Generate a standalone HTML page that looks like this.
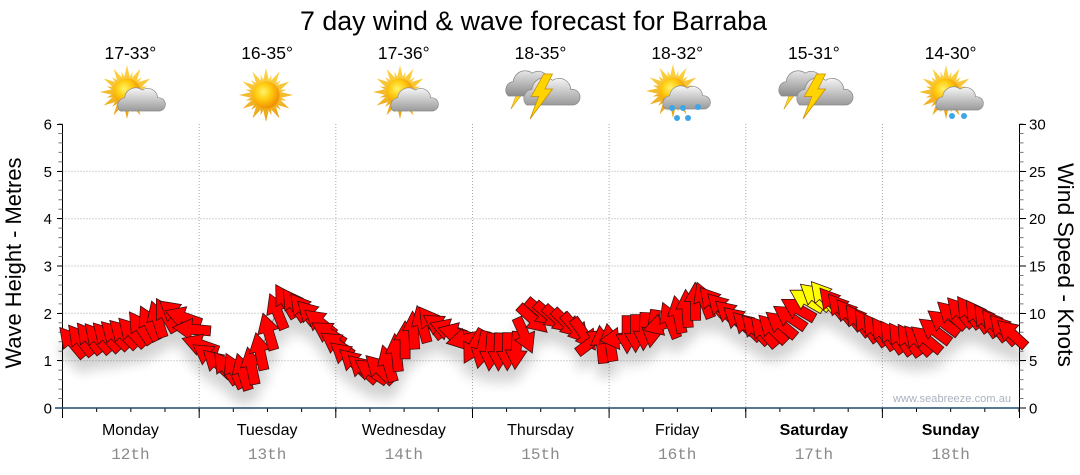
<!DOCTYPE html>
<html><head><meta charset="utf-8"><style>
html,body{margin:0;padding:0;background:#fff;}
svg{display:block;font-family:"Liberation Sans",sans-serif;}
</style></head><body>
<svg width="1080" height="475" viewBox="0 0 1080 475" xmlns="http://www.w3.org/2000/svg">
<defs>
<radialGradient id="sunG" cx="0.4" cy="0.38" r="0.65">
<stop offset="0" stop-color="#fff36a"/><stop offset="0.45" stop-color="#ffcc10"/><stop offset="1" stop-color="#f08a00"/></radialGradient>
<linearGradient id="rayG" x1="0" y1="0" x2="0" y2="1"><stop offset="0" stop-color="#ffd84a"/><stop offset="1" stop-color="#e9a010"/></linearGradient>
<linearGradient id="cloudG" x1="0" y1="0" x2="0" y2="1"><stop offset="0" stop-color="#f6f6f6"/><stop offset="1" stop-color="#9a9a9a"/></linearGradient>
<linearGradient id="cloudG2" x1="0" y1="0" x2="0" y2="1"><stop offset="0" stop-color="#e6e6e6"/><stop offset="1" stop-color="#8a8a8a"/></linearGradient>
<polygon id="star" points="27,0 12.56,3.36 23.38,13.5 9.19,9.19 13.5,23.38 3.36,12.56 0,27 -3.36,12.56 -13.5,23.38 -9.19,9.19 -23.38,13.5 -12.56,3.36 -27,0 -12.56,-3.36 -23.38,-13.5 -9.19,-9.19 -13.5,-23.38 -3.36,-12.56 0,-27 3.36,-12.56 13.5,-23.38 9.19,-9.19 23.38,-13.5 12.56,-3.36"/>
<g id="sun">
<use href="#star" fill="url(#rayG)" transform="rotate(15) scale(0.78)"/>
<use href="#star" fill="url(#rayG)"/>
<circle r="13.5" fill="url(#sunG)"/>
</g>
<path id="cloud" d="M -18 10 A 7 7 0 0 1 -14 -2 A 10 10 0 0 1 2 -9 A 9 9 0 0 1 16 -2 A 6 6 0 0 1 18 10 Z" stroke="#8a8a8a" stroke-width="0.6"/>
<polygon id="bolt" points="3,-8 -7,10 -1,10 -8,28 10,4 4,4 10,-8" fill="#ffd400" stroke="#c88a00" stroke-width="0.6"/>
<filter id="sh" x="-5%" y="-40%" width="110%" height="220%">
<feGaussianBlur in="SourceAlpha" stdDeviation="6"/>
<feOffset dy="14" result="b"/>
<feComponentTransfer><feFuncA type="linear" slope="0.18"/></feComponentTransfer>
<feMerge><feMergeNode/><feMergeNode in="SourceGraphic"/></feMerge>
</filter>
</defs>

<!-- Title -->
<text x="300" y="30" font-size="27" textLength="467" lengthAdjust="spacingAndGlyphs" fill="#000">7 day wind &amp; wave forecast for Barraba</text>

<!-- Temps -->
<g font-size="17.5" fill="#000" text-anchor="middle">
<text x="130.4" y="59">17-33°</text>
<text x="267.1" y="59">16-35°</text>
<text x="403.8" y="59">17-36°</text>
<text x="540.5" y="59">18-35°</text>
<text x="677.2" y="59">18-32°</text>
<text x="813.9" y="59">15-31°</text>
<text x="950.6" y="59">14-30°</text>
</g>

<!-- Icons -->
<use href="#sun" x="127" y="92"/>
<use href="#cloud" transform="translate(140,100) scale(1.1)" fill="url(#cloudG)"/>
<use href="#sun" x="266" y="95"/>
<use href="#sun" x="400" y="92"/>
<use href="#cloud" transform="translate(413,100) scale(1.1)" fill="url(#cloudG)"/>
<!-- Thursday storm -->
<use href="#bolt" transform="translate(518,84) scale(0.9)" opacity="0.9"/>
<use href="#cloud" transform="translate(530,84) scale(1.2)" fill="url(#cloudG2)"/>
<use href="#cloud" transform="translate(550,92) scale(1.3)" fill="url(#cloudG)"/>
<use href="#bolt" transform="translate(540,84) scale(1.25)"/>
<!-- Friday sun+rain -->
<use href="#sun" x="673" y="91"/>
<use href="#cloud" transform="translate(685,98) scale(1.1)" fill="url(#cloudG)"/>
<g fill="#3ea6e6"><circle cx="672" cy="108" r="3"/><circle cx="683" cy="108" r="3"/><circle cx="698" cy="107" r="3"/><circle cx="677" cy="118" r="3"/><circle cx="688" cy="118" r="3"/></g>
<!-- Saturday storm -->
<use href="#bolt" transform="translate(791,84) scale(0.9)" opacity="0.9"/>
<use href="#cloud" transform="translate(803,84) scale(1.2)" fill="url(#cloudG2)"/>
<use href="#cloud" transform="translate(823,92) scale(1.3)" fill="url(#cloudG)"/>
<use href="#bolt" transform="translate(813,84) scale(1.25)"/>
<!-- Sunday sun+rain -->
<use href="#sun" x="946" y="92"/>
<use href="#cloud" transform="translate(958,99) scale(1.1)" fill="url(#cloudG)"/>
<g fill="#3ea6e6"><circle cx="952" cy="116" r="3"/><circle cx="964" cy="116" r="3"/></g>

<!-- Grid -->
<g stroke="#a8a8a8" stroke-width="1" stroke-dasharray="1,2" fill="none">
<line x1="62.5" y1="171.3" x2="1019" y2="171.3"/>
<line x1="62.5" y1="218.7" x2="1019" y2="218.7"/>
<line x1="62.5" y1="266" x2="1019" y2="266"/>
<line x1="62.5" y1="313.3" x2="1019" y2="313.3"/>
<line x1="62.5" y1="360.7" x2="1019" y2="360.7"/>
<line x1="199.2" y1="124" x2="199.2" y2="408"/>
<line x1="335.8" y1="124" x2="335.8" y2="408"/>
<line x1="472.5" y1="124" x2="472.5" y2="408"/>
<line x1="609.1" y1="124" x2="609.1" y2="408"/>
<line x1="745.8" y1="124" x2="745.8" y2="408"/>
<line x1="882.4" y1="124" x2="882.4" y2="408"/>
</g>

<!-- Axes -->
<g fill="none">
<line x1="62.5" y1="124" x2="62.5" y2="418" stroke="#000" stroke-width="1"/>
<line x1="1019.5" y1="124" x2="1019.5" y2="408" stroke="#000" stroke-width="1"/>
<line x1="60.5" y1="123.5" x2="60.5" y2="408.5" stroke="#777" stroke-width="4" stroke-dasharray="1 8.467"/>
<line x1="1021.5" y1="123.5" x2="1021.5" y2="408.5" stroke="#777" stroke-width="4" stroke-dasharray="1 8.467"/>
<line x1="62" y1="410" x2="1020" y2="410" stroke="#000" stroke-width="4" stroke-dasharray="1 33.16"/>
<g stroke="#000" stroke-width="1">
<line x1="57" y1="124.5" x2="62" y2="124.5"/><line x1="57" y1="171.5" x2="62" y2="171.5"/><line x1="57" y1="218.5" x2="62" y2="218.5"/><line x1="57" y1="266" x2="62" y2="266"/><line x1="57" y1="313.5" x2="62" y2="313.5"/><line x1="57" y1="360.5" x2="62" y2="360.5"/>
<line x1="1019" y1="124.5" x2="1026" y2="124.5"/><line x1="1019" y1="171.5" x2="1026" y2="171.5"/><line x1="1019" y1="218.5" x2="1026" y2="218.5"/><line x1="1019" y1="266" x2="1026" y2="266"/><line x1="1019" y1="313.5" x2="1026" y2="313.5"/><line x1="1019" y1="360.5" x2="1026" y2="360.5"/><line x1="1019" y1="408" x2="1026" y2="408"/>
<line x1="199.2" y1="408" x2="199.2" y2="418"/><line x1="335.8" y1="408" x2="335.8" y2="418"/><line x1="472.5" y1="408" x2="472.5" y2="418"/><line x1="609.1" y1="408" x2="609.1" y2="418"/><line x1="745.8" y1="408" x2="745.8" y2="418"/><line x1="882.4" y1="408" x2="882.4" y2="418"/><line x1="1019.5" y1="408" x2="1019.5" y2="418"/>
</g>
<line x1="55" y1="408" x2="1019" y2="408" stroke="#1f4a6e" stroke-width="1.6"/>
</g>

<!-- Tick labels -->
<g font-size="15" fill="#000" text-anchor="end">
<text x="52" y="413.5">0</text><text x="52" y="366.2">1</text><text x="52" y="318.8">2</text><text x="52" y="271.5">3</text><text x="52" y="224.2">4</text><text x="52" y="176.8">5</text><text x="52" y="129.5">6</text>
</g>
<g font-size="15" fill="#000" text-anchor="start">
<text x="1029" y="413.5">0</text><text x="1029" y="366.2">5</text><text x="1029" y="318.8">10</text><text x="1029" y="271.5">15</text><text x="1029" y="224.2">20</text><text x="1029" y="176.8">25</text><text x="1029" y="129.5">30</text>
</g>

<!-- Axis titles -->
<text transform="translate(21,263) rotate(-90)" text-anchor="middle" font-size="22" textLength="211" lengthAdjust="spacingAndGlyphs" fill="#000">Wave Height - Metres</text>
<text transform="translate(1058,265) rotate(90)" text-anchor="middle" font-size="22" textLength="204" lengthAdjust="spacingAndGlyphs" fill="#000">Wind Speed - Knots</text>

<!-- Arrows -->
<polyline id="pline" fill="none" stroke="#999" stroke-width="1"/>
<g id="arrows" filter="url(#sh)" stroke="#3a1010" stroke-width="0.8" stroke-linejoin="miter"></g>

<!-- Watermark -->
<text x="893" y="402" font-size="11" fill="#aab2c0" textLength="118" lengthAdjust="spacing">www.seabreeze.com.au</text>

<!-- Bottom labels -->
<g font-size="16" fill="#000" text-anchor="middle">
<text x="130.4" y="435">Monday</text>
<text x="267.1" y="435">Tuesday</text>
<text x="403.8" y="435">Wednesday</text>
<text x="540.5" y="435">Thursday</text>
<text x="677.2" y="435">Friday</text>
<text x="813.9" y="435" font-weight="bold">Saturday</text>
<text x="950.6" y="435" font-weight="bold">Sunday</text>
</g>
<g font-size="16" fill="#8a8a8a" text-anchor="middle" font-family="Liberation Mono, monospace">
<text x="130.4" y="459">12th</text>
<text x="267.1" y="459">13th</text>
<text x="403.8" y="459">14th</text>
<text x="540.5" y="459">15th</text>
<text x="677.2" y="459">16th</text>
<text x="813.9" y="459">17th</text>
<text x="950.6" y="459">18th</text>
</g>
</svg>
<script>
(function(){
var K=[[72,342,-130],[88,338,-128],[100,338,-132],[115,335,-135],[130,333,-135],[145,325,-120],[160,318,-105],[172,312,-135],[185,318,-165],[195,335,180],[203,350,-150],[215,362,-140],[230,370,-120],[245,372,-105],[255,362,-100],[265,340,-105],[275,315,-110],[283,300,-120],[295,305,-125],[305,310,-130],[318,320,-140],[330,335,-150],[345,355,-140],[360,368,-135],[375,372,-150],[390,362,-100],[405,340,-90],[418,325,-95],[430,322,-125],[445,328,-160],[460,335,-165],[475,348,110],[490,352,95],[505,352,90],[520,350,95],[528,325,45],[540,312,40],[555,318,40],[570,325,45],[585,335,55],[598,345,-95],[612,342,-100],[625,335,90],[640,333,90],[655,328,100],[670,320,-110],[685,310,-95],[697,300,-90],[710,300,-130],[722,308,-135],[735,318,-140],[750,328,-135],[765,332,-130],[780,325,-140],[795,312,-150],[808,298,-150],[822,295,-130],[835,305,-130],[850,315,-130],[865,325,-125],[880,332,-125],[895,338,-125],[910,340,-125],[925,340,-140],[940,325,-145],[955,312,-135],[970,312,-125],[985,320,-125],[1000,328,-130],[1015,335,-140]];
var h='',pts=[];
for(var x=72;x<=1016;x+=8.54){
 var i=0;while(i<K.length-2&&K[i+1][0]<x)i++;
 var a=K[i],b=K[i+1],t=(x-a[0])/(b[0]-a[0]);t=Math.max(0,Math.min(1,t));
 var y=a[1]+(b[1]-a[1])*t;
 var d=b[2]-a[2];d=((d+540)%360+360)%360-180;
 var an=a[2]+d*t;
 var c=(x>=800&&x<=832)?'#ffff00':'#ff0000';
 pts.push(x.toFixed(1)+','+y.toFixed(1));
 h+='<polygon points="-19,-5 0,-5 0,-11 19,0 0,11 0,5 -19,5" transform="translate('+x.toFixed(1)+','+y.toFixed(1)+') rotate('+an.toFixed(1)+')" fill="'+c+'"/>';
}
document.getElementById('arrows').innerHTML=h;
document.getElementById('pline').setAttribute('points',pts.join(' '));
})();
</script>
</body></html>
